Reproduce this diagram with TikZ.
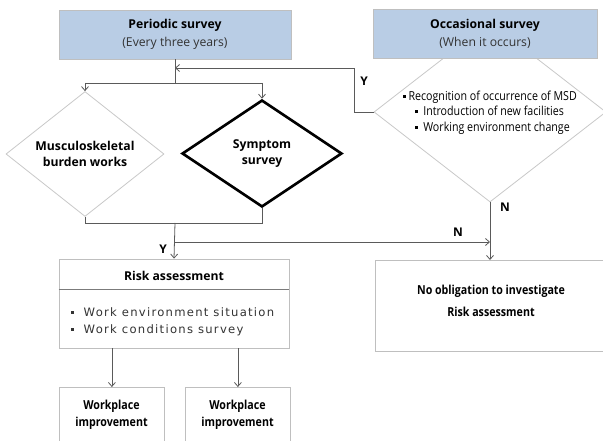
\documentclass[tikz,border=0pt]{standalone}
\usepackage{fontspec}
\setmainfont{Open Sans}
\newfontfamily\condfont[FakeStretch=0.86]{Open Sans}
\newfontfamily\widefont[LetterSpace=11]{DejaVu Sans}
\usetikzlibrary{shapes.geometric,arrows.meta}
\definecolor{boxblue}{HTML}{B9CDE5}
\definecolor{boxline}{HTML}{BFBFBF}
\definecolor{connc}{HTML}{5A5A5A}
\definecolor{dline}{HTML}{C8C8C8}
\definecolor{subtext}{HTML}{333333}
\newcommand{\sqbul}{\raisebox{0.22em}{\rule{2.6pt}{2.6pt}}}
\begin{document}
\begin{tikzpicture}[x=1pt,y=-1pt,
  bluebox/.style={draw=boxline, fill=boxblue, line width=0.8pt, inner sep=0pt, align=center},
  plainbox/.style={draw=boxline, fill=white, line width=0.8pt, inner sep=0pt},
  dmd/.style={diamond, draw=dline, line width=0.8pt, inner sep=0pt, align=center},
  thickdmd/.style={diamond, draw=black, line width=2.6pt, inner sep=0pt, align=center},
  conn/.style={draw=connc, line width=0.8pt},
  arr/.style={conn, -{Straight Barb[length=4pt,width=7pt]}},
  lbl/.style={font=\bfseries\fontsize{12}{14}\selectfont, inner sep=0pt},
  txt/.style={inner sep=0pt, align=center}
]
\useasboundingbox (0,0) rectangle (603,441);
% occasional diamond (behind its box)
\node[dmd, minimum width=232pt, minimum height=180pt] (occd) at (490,112) {};
\node[txt, align=left, font=\condfont\fontsize{12.4}{15.5}\selectfont] (occt) at (490,112.5)
  {\sqbul\ Recognition of occurrence of MSD\\
   \hspace*{12pt}\sqbul\ \ Introduction of new facilities\\
   \hspace*{12pt}\sqbul\ \ Working environment change};
% top boxes
\node[bluebox, minimum width=232pt, minimum height=49pt, font=\fontsize{12.2}{18}\selectfont] (per) at (175,34.5)
  {\textbf{Periodic survey}\\{\color{subtext}(Every three years)}};
\node[bluebox, minimum width=224pt, minimum height=49pt, font=\fontsize{12.2}{18}\selectfont] (occ) at (485,33.5)
  {\textbf{Occasional survey}\\{\color{subtext}(When it occurs)}};
% diamonds
\node[dmd, minimum width=158pt, minimum height=106pt, font=\bfseries\fontsize{12.2}{16.5}\selectfont] (msk) at (85,154)
  {Musculoskeletal\\burden works};
\node[thickdmd, minimum width=160pt, minimum height=107pt, font=\bfseries\fontsize{12.2}{16.5}\selectfont] (sym) at (262,153.5)
  {Symptom\\survey};
% risk assessment box
\node[plainbox, minimum width=230pt, minimum height=89pt] (risk) at (174,303.5) {};
\draw[draw=connc!80, line width=0.9pt] (risk.west |- 0,289) -- (risk.east |- 0,289);
\node[txt, font=\bfseries\fontsize{12.2}{14}\selectfont] (riskt) at (174,276) {Risk assessment};
\node[txt, anchor=west, align=left, font=\widefont\fontsize{11.6}{17}\selectfont, text=subtext] (riskb) at (71,321.5)
  {\sqbul\ \ Work environment situation\\\sqbul\ \ Work conditions survey};
% no obligation box
\node[plainbox, minimum width=240pt, minimum height=91pt, anchor=north west] (noob) at (375,260) {};
\node[txt, font=\condfont\bfseries\fontsize{12.4}{22}\selectfont] (noobt) at (491,301)
  {No obligation to investigate\\Risk assessment};
% workplace boxes
\node[plainbox, minimum width=105pt, minimum height=70pt, anchor=north west] (wp1) at (59,387) {};
\node[txt, font=\condfont\bfseries\fontsize{12.4}{16.5}\selectfont] (wp1t) at (111.5,415) {Workplace\\improvement};
\node[plainbox, minimum width=105pt, minimum height=70pt, anchor=north west] (wp2) at (185,387) {};
\node[txt, font=\condfont\bfseries\fontsize{12.4}{16.5}\selectfont] (wp2t) at (237.5,415) {Workplace\\improvement};
% connectors
\coordinate (split) at (175,83);
\coordinate (fb) at (354,68);
\coordinate (join) at (175,223);
\coordinate (nsplit) at (175,242);
\draw[conn] (per.south) -- (split);
\draw[conn] (msk.north |- split) -- (sym.north |- split);
\draw[arr] (msk.north |- split) -- (msk.north);
\draw[arr] (sym.north |- split) -- (sym.north);
\draw[arr] (occd.west) -- (occd.west -| fb) -- (fb) -- (fb -| split);
\draw[conn] (msk.south) -- (msk.south |- join) -- (sym.south |- join) -- (sym.south);
\draw[arr] (join) -- (risk.north);
\draw[arr] (nsplit) -- (nsplit -| occd.south);
\draw[arr] (occd.south) -- (noob.north -| occd.south);
\draw[arr] (risk.south -| wp1.north) -- (wp1.north);
\draw[arr] (risk.south -| wp2.north) -- (wp2.north);
% labels
\node[lbl] (ly1) at (364,81) {Y};
\node[lbl] (ly2) at (163,249) {Y};
\node[lbl] (ln1) at (458,232) {N};
\node[lbl] (ln2) at (505,207) {N};
\end{tikzpicture}
\end{document}
